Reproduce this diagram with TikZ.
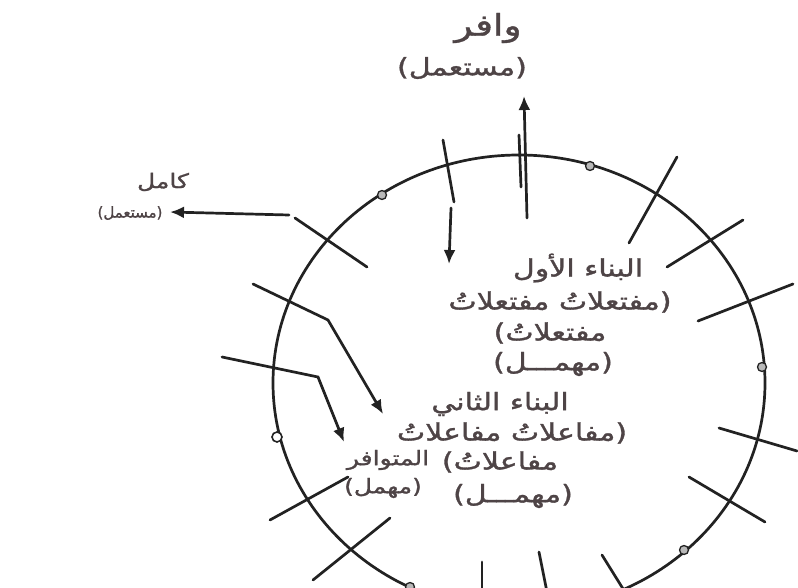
\documentclass[tikz,border=0pt]{standalone}
\usepackage{graphicx}
\usepackage{fontspec}
\newfontfamily\arabicfont[Script=Arabic, FakeBold=1.2]{DejaVu Sans}
\TeXXeTstate=1
\usepackage{xcolor}
\usetikzlibrary{arrows.meta}
\definecolor{ink}{HTML}{4E4446}
\definecolor{pen}{HTML}{222222}
% handwriting is wide: stretch each Arabic line a little
\newcommand{\wideR}[1]{\scalebox{1.25}[1]{\beginR #1\endR}}

\begin{document}
\begin{tikzpicture}[x=1pt, y=-1pt,
  txt/.style={font=\arabicfont\fontsize{24}{28}\selectfont, text=ink, inner sep=1pt},
  sidetxt/.style={font=\arabicfont\fontsize{20}{24}\selectfont, text=ink, inner sep=1pt},
  bigtxt/.style={font=\arabicfont\fontsize{30}{34}\selectfont, text=ink, inner sep=1pt},
  smalltxt/.style={font=\arabicfont\fontsize{15}{18}\selectfont, text=ink, inner sep=1pt},
  rim/.style={draw=pen, line width=2.7pt},
  slash/.style={draw=pen, line width=2.7pt, line cap=round},
  arr/.style={-{Latex[length=14pt, width=12pt]}, draw=pen, line width=2.7pt, line cap=round},
  pip/.style={circle, draw=pen, fill=gray!55, line width=1.3pt, inner sep=0pt, minimum size=9pt},
  hollow/.style={circle, draw=pen, fill=white, line width=1.6pt, inner sep=0pt, minimum size=10pt}
]
\clip (0,0) rectangle (798,588);
\fill[white] (0,0) rectangle (798,588);
%% circle
\coordinate (hub) at (519,383);
\draw[rim] (hub) ellipse [x radius=246, y radius=228];
\node[pip]    (p_nw) at (382,195) {};
\node[pip]    (p_ne) at (590,166) {};
\node[pip]    (p_e)  at (762,367) {};
\node[pip]    (p_se) at (684,550) {};
\node[pip]    (p_sw) at (410,587) {};
\node[hollow] (p_w)  at (277,437) {};
%% labels outside
\node[bigtxt]   (wafir)     at (488,28)  {\wideR{وافر}};
\node[txt]      (wafirNote) at (462,68)  {\wideR{(مستعمل)}};
\node[sidetxt]  (kamil)     at (163,182) {\wideR{كامل}};
\node[smalltxt] (kamilNote) at (130,213) {\beginR (مستعمل)\endR};
%% labels inside
\node[txt] (b1a) at (578,268) {\wideR{البناء الأول}};
\node[txt] (b1b) at (560,302) {\wideR{(مفتعلاتُ مفتعلاتُ}};
\node[txt] (b1c) at (550,333) {\wideR{مفتعلاتُ)}};
\node[txt] (b1d) at (553,364) {\wideR{(مهمـــل)}};
\node[txt] (b2a) at (500,404) {\wideR{البناء الثاني}};
\node[txt] (b2b) at (512,433) {\wideR{(مفاعلاتُ مفاعلاتُ}};
\node[txt] (b2c) at (500,462) {\wideR{مفاعلاتُ)}};
\node[txt] (b2d) at (513,496) {\wideR{(مهمـــل)}};
\node[sidetxt] (mut)     at (388,460) {\wideR{المتوافر}};
\node[sidetxt] (mutNote) at (383,488) {\wideR{(مهمل)}};
%% ticks across the rim
\draw[slash] (519,135) -- (521,187);
\draw[slash] (443,140) -- (454,202);
\draw[slash] (295,218) -- (367,267);
\draw[slash] (270,520) -- (348,477);
\draw[slash] (313,580) -- (390,518);
\draw[slash] (482,562) -- (482,592);
\draw[slash] (539,552) -- (547,592);
\draw[slash] (602,555) -- (625,592);
\draw[slash] (677,157) -- (629,243);
\draw[slash] (743,220) -- (667,267);
\draw[slash] (793,284) -- (698,321);
\draw[slash] (719,428) -- (797,451);
\draw[slash] (689,477) -- (765,522);
%% arrows
\coordinate (up_from)   at (527,218);
\coordinate (up_to)     at (524,96);
\coordinate (left_from) at (289,215);
\coordinate (left_to)   at (170,212);
\coordinate (down_from) at (451,208);
\coordinate (down_to)   at (449,264);
\coordinate (mid_from)  at (253,284);
\coordinate (mid_bend)  at (328,320);
\coordinate (mid_to)    at (383,414);
\coordinate (low_from)  at (222,357);
\coordinate (low_bend)  at (318,377);
\coordinate (low_to)    at (344,442);
\draw[arr] (up_from) -- (up_to);
\draw[arr] (left_from) -- (left_to);
\draw[arr] (down_from) -- (down_to);
\draw[arr] (mid_from) -- (mid_bend) -- (mid_to);
\draw[arr] (low_from) -- (low_bend) -- (low_to);
\end{tikzpicture}
\end{document}
